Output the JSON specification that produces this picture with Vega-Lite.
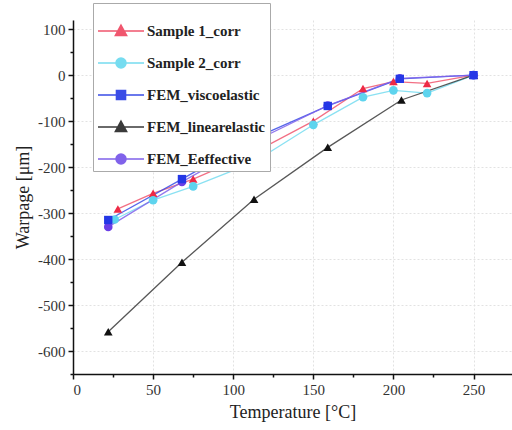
{
  "$schema": "https://vega.github.io/schema/vega-lite/v6.json",
  "width": 439,
  "height": 354,
  "autosize": "none",
  "padding": {"left": 73, "top": 20, "right": 0, "bottom": 56},
  "background": "white",
  "config": {
    "view": {"stroke": null},
    "font": "Liberation Serif",
    "axis": {"labelFont": "Liberation Serif", "titleFont": "Liberation Serif"},
    "legend": {"labelFont": "Liberation Serif"}
  },
  "data": {
    "values": [
      {"series": "Sample 1_corr", "temp": 28, "warpage": -291},
      {"series": "Sample 1_corr", "temp": 50, "warpage": -257},
      {"series": "Sample 1_corr", "temp": 75, "warpage": -226},
      {"series": "Sample 1_corr", "temp": 112, "warpage": -170},
      {"series": "Sample 1_corr", "temp": 150, "warpage": -100},
      {"series": "Sample 1_corr", "temp": 181, "warpage": -29},
      {"series": "Sample 1_corr", "temp": 200, "warpage": -14},
      {"series": "Sample 1_corr", "temp": 221, "warpage": -18},
      {"series": "Sample 1_corr", "temp": 250, "warpage": 0},
      {"series": "Sample 2_corr", "temp": 26, "warpage": -314},
      {"series": "Sample 2_corr", "temp": 50, "warpage": -272},
      {"series": "Sample 2_corr", "temp": 75, "warpage": -242},
      {"series": "Sample 2_corr", "temp": 112, "warpage": -191},
      {"series": "Sample 2_corr", "temp": 150, "warpage": -108},
      {"series": "Sample 2_corr", "temp": 181, "warpage": -48},
      {"series": "Sample 2_corr", "temp": 200, "warpage": -33},
      {"series": "Sample 2_corr", "temp": 221, "warpage": -39},
      {"series": "Sample 2_corr", "temp": 250, "warpage": 0},
      {"series": "FEM_viscoelastic", "temp": 22, "warpage": -315},
      {"series": "FEM_viscoelastic", "temp": 68, "warpage": -226},
      {"series": "FEM_viscoelastic", "temp": 114, "warpage": -136},
      {"series": "FEM_viscoelastic", "temp": 159, "warpage": -67},
      {"series": "FEM_viscoelastic", "temp": 204, "warpage": -8},
      {"series": "FEM_viscoelastic", "temp": 250, "warpage": 0},
      {"series": "FEM_linearelastic", "temp": 22, "warpage": -558},
      {"series": "FEM_linearelastic", "temp": 68, "warpage": -407},
      {"series": "FEM_linearelastic", "temp": 113, "warpage": -270},
      {"series": "FEM_linearelastic", "temp": 159, "warpage": -157},
      {"series": "FEM_linearelastic", "temp": 205, "warpage": -54},
      {"series": "FEM_linearelastic", "temp": 250, "warpage": 0},
      {"series": "FEM_Eeffective", "temp": 22, "warpage": -330},
      {"series": "FEM_Eeffective", "temp": 68, "warpage": -232},
      {"series": "FEM_Eeffective", "temp": 113, "warpage": -144},
      {"series": "FEM_Eeffective", "temp": 159, "warpage": -66},
      {"series": "FEM_Eeffective", "temp": 204, "warpage": -7},
      {"series": "FEM_Eeffective", "temp": 250, "warpage": 0}
    ]
  },
  "encoding": {
    "x": {
      "field": "temp", "type": "quantitative",
      "scale": {"domain": [0, 274], "nice": false, "zero": false},
      "axis": {
        "title": "Temperature [°C]",
        "values": [0, 25, 50, 75, 100, 125, 150, 175, 200, 225, 250],
        "grid": true, "gridColor": "#e2e2e2", "gridDash": [2, 2], "gridWidth": 1,
        "gridOpacity": {"condition": {"test": "datum.value % 50 != 0", "value": 0}, "value": 1},
        "tickSize": {"condition": {"test": "datum.value % 50 != 0", "value": 3}, "value": 5},
        "domainColor": "#111", "domainWidth": 1.5,
        "tickColor": "#111", "tickWidth": 1.5,
        "labelFont": "Liberation Serif", "labelFontSize": 15, "labelColor": "#333", "labelPadding": 3,
        "labelExpr": "datum.value % 50 != 0 ? '' : replace(datum.label, '−', '-')",
        "titleFont": "Liberation Serif", "titleFontSize": 18, "titleFontWeight": "normal", "titleColor": "#222", "titlePadding": 6
      }
    },
    "y": {
      "field": "warpage", "type": "quantitative",
      "scale": {"domain": [-650, 120], "nice": false, "zero": false},
      "axis": {
        "title": "Warpage [μm]",
        "values": [-650, -600, -550, -500, -450, -400, -350, -300, -250, -200, -150, -100, -50, 0, 50, 100],
        "grid": true, "gridColor": "#e2e2e2", "gridDash": [2, 2], "gridWidth": 1,
        "gridOpacity": {"condition": {"test": "datum.value % 100 != 0", "value": 0}, "value": 1},
        "tickSize": {"condition": {"test": "datum.value % 100 != 0", "value": 3}, "value": 5},
        "domainColor": "#111", "domainWidth": 1.5,
        "tickColor": "#111", "tickWidth": 1.5,
        "labelFont": "Liberation Serif", "labelFontSize": 15, "labelColor": "#333", "labelPadding": 3,
        "labelExpr": "datum.value % 100 != 0 ? '' : replace(datum.label, '−', '-')",
        "titleFont": "Liberation Serif", "titleFontSize": 18, "titleFontWeight": "normal", "titleColor": "#222", "titlePadding": 5
      }
    }
  },
  "layer": [
    {
      "mark": {"type": "point", "filled": true, "opacity": 0},
      "encoding": {
        "fill": {
          "field": "series", "type": "nominal",
          "scale": {
            "domain": ["Sample 1_corr", "Sample 2_corr", "FEM_viscoelastic", "FEM_linearelastic", "FEM_Eeffective"],
            "range": ["#ee2a45", "#5ed4ee", "#2437e6", "#111111", "#6a3ee6"]
          },
          "legend": {
            "title": null,
            "orient": "none",
            "legendX": 20,
            "legendY": -17,
            "fillColor": "white",
            "strokeColor": "#aaaaaa",
            "padding": 4,
            "symbolSize": 2116,
            "symbolOpacity": 1,
            "symbolStrokeWidth": 1.4,
            "rowPadding": -11,
            "labelFont": "Liberation Serif",
            "labelFontSize": 15,
            "labelFontWeight": "bold",
            "labelColor": "#222",
            "labelOffset": 2
          }
        },
        "stroke": {
          "field": "series", "type": "nominal",
          "scale": {
            "domain": ["Sample 1_corr", "Sample 2_corr", "FEM_viscoelastic", "FEM_linearelastic", "FEM_Eeffective"],
            "range": ["#f0566e", "#76dcf0", "#3a4ce6", "#3a3a3a", "#8062ea"]
          }
        },
        "shape": {
          "field": "series", "type": "nominal",
          "scale": {
            "domain": ["Sample 1_corr", "Sample 2_corr", "FEM_viscoelastic", "FEM_linearelastic", "FEM_Eeffective"],
            "range": [
              "M-1,0H1M0,-0.26L0.25,0.2H-0.25ZM0,-0.165L0.175,0.154H-0.175ZM0,-0.075L0.1,0.108H-0.1ZM0,0.01L0.04,0.07H-0.04Z",
              "M-1,0H1M0.22,0A0.22,0.22 0 1,1 -0.22,0A0.22,0.22 0 1,1 0.22,0ZM0.16,0A0.16,0.16 0 1,1 -0.16,0A0.16,0.16 0 1,1 0.16,0ZM0.1,0A0.1,0.1 0 1,1 -0.1,0A0.1,0.1 0 1,1 0.1,0ZM0.04,0A0.04,0.04 0 1,1 -0.04,0A0.04,0.04 0 1,1 0.04,0Z",
              "M-1,0H1M-0.2,-0.2H0.2V0.2H-0.2ZM-0.14,-0.14H0.14V0.14H-0.14ZM-0.08,-0.08H0.08V0.08H-0.08ZM-0.03,-0.03H0.03V0.03H-0.03Z",
              "M-1,0H1M0,-0.26L0.25,0.2H-0.25ZM0,-0.165L0.175,0.154H-0.175ZM0,-0.075L0.1,0.108H-0.1ZM0,0.01L0.04,0.07H-0.04Z",
              "M-1,0H1M0.22,0A0.22,0.22 0 1,1 -0.22,0A0.22,0.22 0 1,1 0.22,0ZM0.16,0A0.16,0.16 0 1,1 -0.16,0A0.16,0.16 0 1,1 0.16,0ZM0.1,0A0.1,0.1 0 1,1 -0.1,0A0.1,0.1 0 1,1 0.1,0ZM0.04,0A0.04,0.04 0 1,1 -0.04,0A0.04,0.04 0 1,1 0.04,0Z"
            ]
          }
        }
      }
    },
    {
      "mark": {"type": "line", "strokeWidth": 1.3, "strokeOpacity": 0.85},
      "encoding": {"stroke": {"field": "series", "type": "nominal"}}
    },
    {
      "transform": [{"filter": "datum.series == 'Sample 1_corr' || datum.series == 'FEM_linearelastic'"}],
      "mark": {"type": "point", "shape": "triangle-up", "filled": true, "opacity": 1, "size": 75, "strokeWidth": 0},
      "encoding": {"fill": {"field": "series", "type": "nominal"}}
    },
    {
      "transform": [{"filter": "datum.series == 'Sample 2_corr' || datum.series == 'FEM_Eeffective'"}],
      "mark": {"type": "point", "shape": "circle", "filled": true, "opacity": 1, "size": 75, "strokeWidth": 0},
      "encoding": {"fill": {"field": "series", "type": "nominal"}}
    },
    {
      "transform": [{"filter": "datum.series == 'FEM_viscoelastic'"}],
      "mark": {"type": "point", "shape": "square", "filled": true, "opacity": 1, "size": 70, "strokeWidth": 0},
      "encoding": {"fill": {"field": "series", "type": "nominal"}}
    }
  ]
}
